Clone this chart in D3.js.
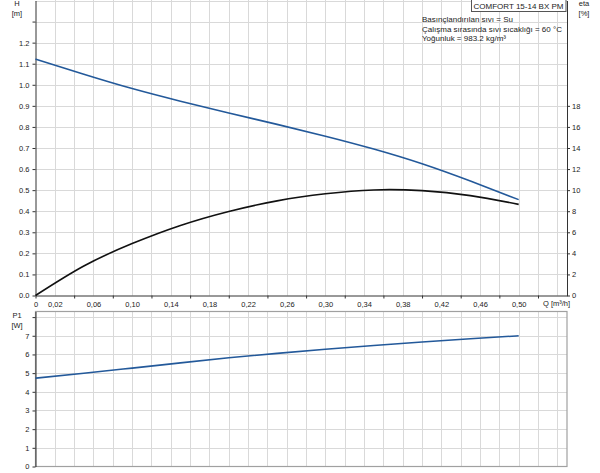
<!DOCTYPE html>
<html>
<head>
<meta charset="utf-8">
<script src="https://cdn.jsdelivr.net/npm/d3@7"></script>
<style>
  body { margin: 0; background: #fff; }
  svg { display: block; font-family: "Liberation Sans", Arial, sans-serif; }
  .tick text { fill: #222; }
</style>
</head>
<body>
<div class="chart"></div>
<script>
// flow points (m3/h)
var flow = [0, 0.05, 0.10, 0.15, 0.20, 0.25, 0.30, 0.35, 0.40, 0.45, 0.50];
// head H [m]
var head = [1.122, 1.050, 0.982, 0.922, 0.866, 0.812, 0.756, 0.695, 0.625, 0.543, 0.455];
// efficiency eta [%]
var eta = [0, 2.8, 4.93, 6.65, 7.98, 8.98, 9.65, 10.02, 9.95, 9.48, 8.65];
// power P1 [W]
var power = [4.73, 4.99, 5.27, 5.55, 5.82, 6.06, 6.28, 6.48, 6.67, 6.84, 7.00];

var xLabels = [0, 0.02, 0.06, 0.10, 0.14, 0.18, 0.22, 0.26, 0.30, 0.34, 0.38, 0.42, 0.46, 0.50];
var xTicks = [0, 0.04, 0.08, 0.12, 0.16, 0.20, 0.24, 0.28, 0.32, 0.36, 0.40, 0.44, 0.48, 0.52];
var hTicks = [0, 0.1, 0.2, 0.3, 0.4, 0.5, 0.6, 0.7, 0.8, 0.9, 1.0, 1.1, 1.2, 1.3];
var etaTicks = [0, 2, 4, 6, 8, 10, 12, 14, 16, 18];
var pTicks = [0, 1, 2, 3, 4, 5, 6, 7, 8];

var legendLines = ["Basınçlandırılan sıvı = Su",
                   "Çalışma sırasında sıvı sıcaklığı = 60 °C",
                   "Yoğunluk = 983.2 kg/m³"];

var width = 600, height = 473;
var svg = d3.select(".chart").append("svg")
    .attr("width", width)
    .attr("height", height);

var left = 35.5, right = 567;
var x = d3.scaleLinear().domain([0, 0.55]).range([left, right]);
var yH = d3.scaleLinear().domain([0, 1.4]).range([295.5, 0.5]);
var yEta = d3.scaleLinear().domain([0, 28]).range([295.5, 0.5]);
var yP = d3.scaleLinear().domain([0, 8.3]).range([466.5, 311.5]);

var gridColor = "#d9d9d9";
var vGrid = d3.range(1, 28).map(d => d * 0.02);

// ---- top chart grid
var topGrid = svg.append("g");
topGrid.selectAll(".vg").data(vGrid).enter().append("line")
    .attr("x1", d => Math.round(x(d)) + 0.5).attr("x2", d => Math.round(x(d)) + 0.5)
    .attr("y1", 0).attr("y2", yH(0))
    .attr("stroke", gridColor);
topGrid.selectAll(".hg").data(d3.range(1, 15).map(d => d / 10)).enter().append("line")
    .attr("x1", left).attr("x2", right)
    .attr("y1", d => Math.round(yH(d)) + 0.5).attr("y2", d => Math.round(yH(d)) + 0.5)
    .attr("stroke", gridColor);

// ---- bottom chart grid
var botGrid = svg.append("g");
botGrid.selectAll(".vg").data(vGrid).enter().append("line")
    .attr("x1", d => Math.round(x(d)) + 0.5).attr("x2", d => Math.round(x(d)) + 0.5)
    .attr("y1", yP.range()[1]).attr("y2", yP(0))
    .attr("stroke", gridColor);
botGrid.selectAll(".hg").data(d3.range(1, 9)).enter().append("line")
    .attr("x1", left).attr("x2", right)
    .attr("y1", d => Math.round(yP(d)) + 0.5).attr("y2", d => Math.round(yP(d)) + 0.5)
    .attr("stroke", gridColor);
// frame of bottom chart
botGrid.append("rect")
    .attr("x", left).attr("y", yP.range()[1])
    .attr("width", right - left).attr("height", yP(0) - yP.range()[1])
    .attr("fill", "none").attr("stroke", "#a0a0a0").attr("stroke-width", 1.2);

// ---- axes
function styleAxis(g, size) {
  g.select(".domain").attr("stroke", "#333");
  g.selectAll(".tick line").attr("stroke", "#333");
  g.selectAll(".tick text").style("font-size", size + "px");
}

var comma = v => v === 0 ? "0" : d3.format(".2f")(v).replace(".", ",");

svg.append("g")
    .attr("transform", `translate(0,${yH(0)})`)
    .call(d3.axisBottom(x).tickValues(xTicks).tickFormat("").tickSize(3).tickSizeOuter(0))
    .call(g => styleAxis(g, 7.5));
svg.append("g")
    .attr("transform", `translate(0,${yH(0)})`)
    .call(d3.axisBottom(x).tickValues(xLabels).tickFormat(comma).tickSize(0).tickPadding(6.5))
    .call(g => { g.select(".domain").remove(); styleAxis(g, 7.5); });

svg.append("g")
    .attr("transform", `translate(${left},0)`)
    .call(d3.axisLeft(yH).tickValues(hTicks).tickFormat(d => d > 1.25 ? "" : d3.format(".1f")(d))
      .tickSize(3).tickPadding(3).tickSizeOuter(0))
    .call(g => styleAxis(g, 7.5));

svg.append("g")
    .attr("transform", `translate(${right},0)`)
    .call(d3.axisRight(yEta).tickValues(etaTicks).tickSize(3).tickPadding(2).tickSizeOuter(0))
    .call(g => styleAxis(g, 7.5));

svg.append("g")
    .attr("transform", `translate(${left},0)`)
    .call(d3.axisLeft(yP).tickValues(pTicks).tickFormat(d => d === 8 ? "" : d)
      .tickSize(3).tickPadding(3).tickSizeOuter(0))
    .call(g => styleAxis(g, 7.5));

// ---- axis titles
var txt = (tx, ty, s, anchor, size) => svg.append("text")
    .attr("x", tx).attr("y", ty).attr("text-anchor", anchor || "middle")
    .style("font-size", (size || 7.5) + "px").attr("fill", "#222").text(s);

txt(17, 6, "H");
txt(17, 16, "[m]");
txt(584, 6, "eta");
txt(584, 16, "[%]");
txt(17, 318, "P1");
txt(17, 328, "[W]");
txt(543, 306, "Q [m³/h]", "start");

// ---- curves
var curve = d3.curveNatural;
var hLine = d3.line().x((d, i) => x(flow[i])).y(d => yH(d)).curve(curve);
var etaLine = d3.line().x((d, i) => x(flow[i])).y(d => yEta(d)).curve(curve);
var pLine = d3.line().x((d, i) => x(flow[i])).y(d => yP(d)).curve(curve);

svg.append("path").datum(head).attr("d", hLine)
    .attr("fill", "none").attr("stroke", "#23599a").attr("stroke-width", 1.6);
svg.append("path").datum(eta).attr("d", etaLine)
    .attr("fill", "none").attr("stroke", "#111").attr("stroke-width", 1.6);
svg.append("path").datum(power).attr("d", pLine)
    .attr("fill", "none").attr("stroke", "#23599a").attr("stroke-width", 1.6);

// ---- legend
svg.append("rect")
    .attr("x", 471.5).attr("y", -1).attr("width", 94.5).attr("height", 12.5)
    .attr("fill", "#fff").attr("stroke", "#555");
txt(518.5, 9, "COMFORT 15-14 BX PM", "middle", 8);
legendLines.forEach(function(s, i) {
  txt(422, 22 + i * 9.5, s, "start", 8);
});
</script>
</body>
</html>
